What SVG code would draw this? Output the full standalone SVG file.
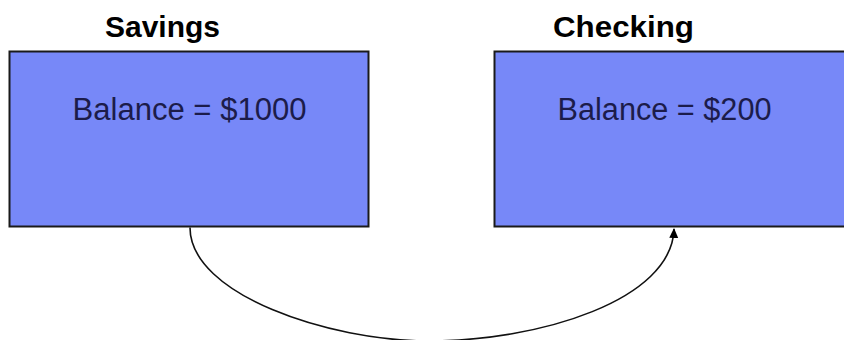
<svg xmlns="http://www.w3.org/2000/svg" width="844" height="340" viewBox="0 0 844 340">
<defs>
<style>
.box{fill:#7788f8;stroke:#1a1a1a;stroke-width:2}
.title{font-family:"Liberation Sans",Arial,sans-serif;font-weight:bold;font-size:29px;fill:#000}
.val{font-family:"Liberation Sans",Arial,sans-serif;font-size:31px;fill:#1c1c4a}
.conn{fill:none;stroke:#111;stroke-width:1.6}
</style>
<marker id="arr" markerWidth="10" markerHeight="10" refX="9" refY="5" orient="auto" markerUnits="userSpaceOnUse">
<path d="M0,0.5 L10,5 L0,9.5 Z" fill="#000"/>
</marker>
</defs>
<rect width="844" height="340" fill="#fff"/>
<g id="savings">
<text class="title" x="105" y="37" textLength="115" lengthAdjust="spacingAndGlyphs">Savings</text>
<rect class="box" x="9.5" y="51.5" width="359" height="175"/>
<text class="val" x="72.5" y="120" textLength="234" lengthAdjust="spacingAndGlyphs">Balance = $1000</text>
</g>
<g id="checking">
<text class="title" x="553" y="37" textLength="141" lengthAdjust="spacingAndGlyphs">Checking</text>
<rect class="box" x="494.5" y="51.5" width="360" height="175"/>
<text class="val" x="557.5" y="120" textLength="214" lengthAdjust="spacingAndGlyphs">Balance = $200</text>
</g>
<g id="connectors">
<path class="conn" d="M190,227.5 C190,295 330,341 428,341 C540,341 672,300 674,229" marker-end="url(#arr)"/>
</g>
</svg>
